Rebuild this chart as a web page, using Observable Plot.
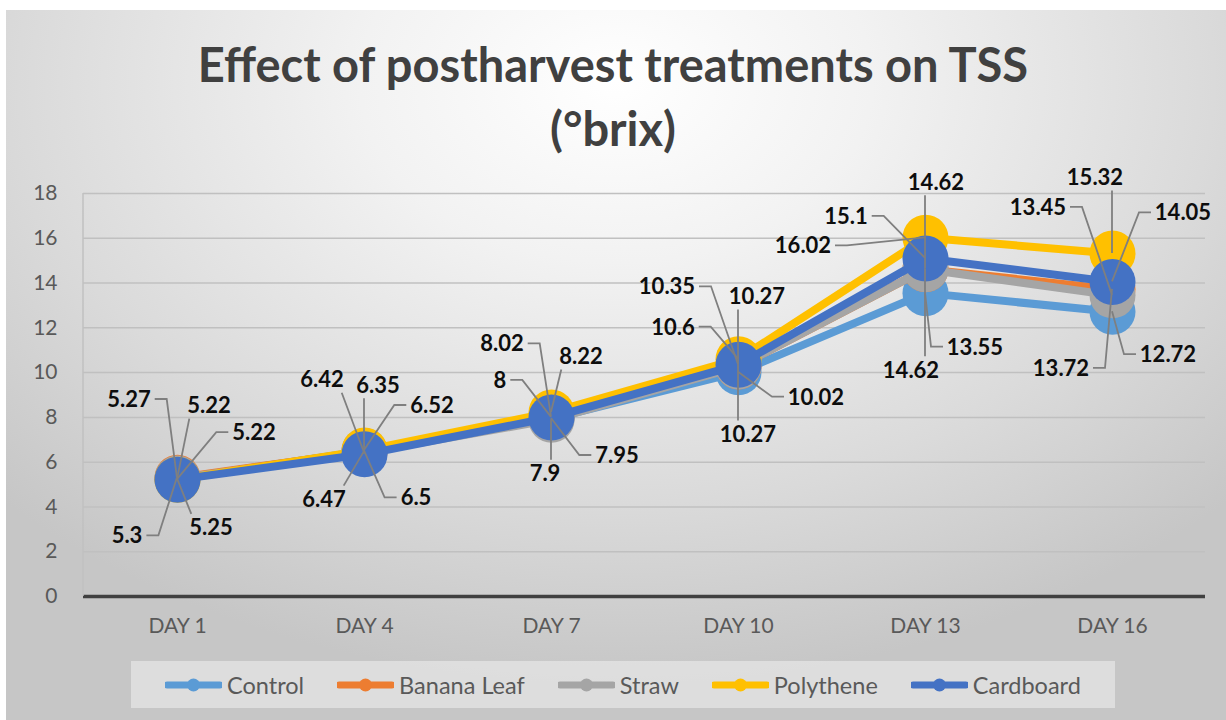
<!DOCTYPE html>
<html>
<head>
<meta charset="utf-8">
<script src="https://cdn.jsdelivr.net/npm/d3@7"></script>
<script src="https://cdn.jsdelivr.net/npm/@observablehq/plot@0.6"></script>
<style>
  html, body { margin: 0; padding: 0; background: #ffffff; }
  #page { position: relative; width: 1226px; height: 720px; overflow: hidden; font-family: Lato, "Open Sans", sans-serif; }
  #bg { position: absolute; left: 6px; top: 10px; width: 1220px; height: 710px;
        background: radial-gradient(ellipse 70% 85% at 50% 10%, #ffffff 0%, #f2f2f2 30%, #dadada 70%, #c6c6c6 100%); }
  #title { position: absolute; left: 0; top: 32px; width: 1226px; text-align: center; font-weight: 700; font-size: 47px; line-height: 64px; color: #404040; }
  #chart { position: absolute; left: 0; top: 160px; }
  #legend { position: absolute; left: 131px; top: 661px; width: 984px; height: 47px; background: rgba(240,240,240,0.55);
            display: flex; align-items: center; box-sizing: border-box; padding-left: 34px; }
  .item { display: flex; align-items: center; font-size: 23.5px; color: #595959; margin-right: 33px; }
  .item svg { margin-right: 5px; }
</style>
</head>
<body>
<div id="page">
  <div id="bg"></div>
  <div id="title">Effect of postharvest treatments on TSS<br>(°brix)</div>
  <div id="chart"></div>
  <div id="legend"></div>
</div>
<script>
// ---- data ----
const days = ["DAY 1", "DAY 4", "DAY 7", "DAY 10", "DAY 13", "DAY 16"];
const seriesNames = ["Control", "Banana Leaf", "Straw", "Polythene", "Cardboard"];
const controlValues   = [5.25, 6.5,  7.95, 10.02, 13.55, 12.72];
const bananaValues    = [5.3,  6.47, 8.02, 10.27, 14.62, 13.72];
const strawValues     = [5.27, 6.42, 7.9,  10.27, 14.62, 13.45];
const polytheneValues = [5.22, 6.52, 8.22, 10.6,  16.02, 15.32];
const cardboardValues = [5.22, 6.35, 8,    10.35, 15.1,  14.05];
const seriesColors = ["#5B9BD5", "#ED7D31", "#A5A5A5", "#FFC000", "#4472C4"];
const yTicks = [0, 2, 4, 6, 8, 10, 12, 14, 16, 18];

// label placement (pixel offsets from the point, elbow leader or straight)
const labelLayout = [
  // [series, day index, dx, dy, elbow]
  ["Control", 0, 34, 49, false], ["Banana Leaf", 0, -50, 58, true], ["Straw", 0, -48, -79, true], ["Polythene", 0, 32, -74, false], ["Cardboard", 0, 77, -47, true],
  ["Control", 1, 52, 47, true], ["Banana Leaf", 1, -40, 48, false], ["Straw", 1, -42, -73, false], ["Polythene", 1, 68, -45, true], ["Cardboard", 1, 14, -69, false],
  ["Control", 2, 66, 37, true], ["Banana Leaf", 2, -49, -73, true], ["Straw", 2, -6, 54, false], ["Polythene", 2, 30, -56, false], ["Cardboard", 2, -51, -37, true],
  ["Control", 3, 78, 25, true], ["Banana Leaf", 3, 19, -70, false], ["Straw", 3, 10, 68, false], ["Polythene", 3, -65, -32, true], ["Cardboard", 3, -71, -78, true],
  ["Control", 4, 50, 54, true], ["Banana Leaf", 4, 11, -87, false], ["Straw", 4, -14, 101, false], ["Polythene", 4, -122, 8, true], ["Cardboard", 4, -79, -42, true],
  ["Control", 5, 56, 43, true], ["Banana Leaf", 5, -51, 79, true], ["Straw", 5, -74, -88, true], ["Polythene", 5, -17, -76, false], ["Cardboard", 5, 71, -69, true]
];

const valuesBySeries = [controlValues, bananaValues, strawValues, polytheneValues, cardboardValues];
const rows = [];
seriesNames.forEach((s, k) => days.forEach((d, i) => rows.push({series: s, day: d, value: valuesBySeries[k][i]})));

const seriesMarks = [];
seriesNames.forEach((s, k) => {
  const data = rows.filter(r => r.series === s);
  seriesMarks.push(Plot.line(data, {x: "day", y: "value", stroke: seriesColors[k], strokeWidth: 8, strokeLinejoin: "round", strokeLinecap: "round"}));
  seriesMarks.push(Plot.dot(data, {x: "day", y: "value", r: 23, fill: seriesColors[k], stroke: "none"}));
});

function labelsMark(index, scales, values, dims) {
  const g = d3.create("svg:g");
  // left axis line
  g.append("line")
    .attr("x1", dims.marginLeft).attr("x2", dims.marginLeft)
    .attr("y1", dims.marginTop).attr("y2", dims.height - dims.marginBottom)
    .attr("stroke", "#c0c0c0").attr("stroke-width", 1.5);
  const leaders = g.append("g").attr("stroke", "#7f7f7f").attr("stroke-width", 1.8).attr("fill", "none");
  const texts = g.append("g").attr("font-family", "Lato, sans-serif").attr("font-weight", 700).attr("font-size", 22)
    .attr("fill", "#0d0d0d").attr("text-anchor", "middle");
  for (const [s, i, dx, dy, elbow] of labelLayout) {
    const k = seriesNames.indexOf(s);
    const v = valuesBySeries[k][i];
    const px = scales.x(days[i]), py = scales.y(v);
    const txt = String(v);
    const w = txt.replace(".", "").length * 12.6 + (txt.includes(".") ? 5.6 : 0);
    const h = 17;
    const cx = px + dx, cy = py + dy;
    const left = cx - w / 2 - 4, right = cx + w / 2 + 4, top = cy - h / 2 - 5, bottom = cy + h / 2 + 5;
    let path;
    if (elbow) {
      const sx = px > cx ? right : left;
      const ex = px > cx ? sx + 12 : sx - 12;
      path = `M${sx},${cy}L${ex},${cy}L${px},${py}`;
    } else {
      const ax = Math.max(left + 6, Math.min(right - 6, px));
      const ay = py > cy ? bottom : top;
      path = `M${ax},${ay}L${px},${py}`;
    }
    leaders.append("path").attr("d", path);
    texts.append("text").attr("x", cx).attr("y", cy).attr("dy", "0.36em").text(txt);
  }
  return g.node();
}

const chart = Plot.plot({
  width: 1226,
  height: 490,
  marginLeft: 83,
  marginRight: 21,
  marginTop: 33,
  marginBottom: 54,
  style: {background: "transparent", fontFamily: "Lato, sans-serif", fontSize: "21px", color: "#595959", overflow: "visible"},
  x: {type: "point", domain: days, padding: 0.5, tickSize: 0, tickPadding: 22, label: null},
  y: {domain: [0, 18], ticks: yTicks, tickSize: 0, tickPadding: 26, label: null},
  marks: [
    Plot.ruleY(yTicks.filter(t => t > 0), {stroke: "#c0c0c0", strokeWidth: 1.5}),
    Plot.ruleY([0], {stroke: "#404040", strokeWidth: 3.5}),
    ...seriesMarks,
    labelsMark
  ]
});
document.getElementById("chart").appendChild(chart);

// legend
const legend = document.getElementById("legend");
seriesNames.forEach((s, k) => {
  const item = document.createElement("div");
  item.className = "item";
  item.innerHTML = `<svg width="57" height="16"><line x1="2" x2="55" y1="8" y2="8" stroke="${seriesColors[k]}" stroke-width="7" stroke-linecap="round"/><circle cx="28.5" cy="8" r="6.5" fill="${seriesColors[k]}"/></svg><span>${s}</span>`;
  legend.appendChild(item);
});
</script>
</body>
</html>
